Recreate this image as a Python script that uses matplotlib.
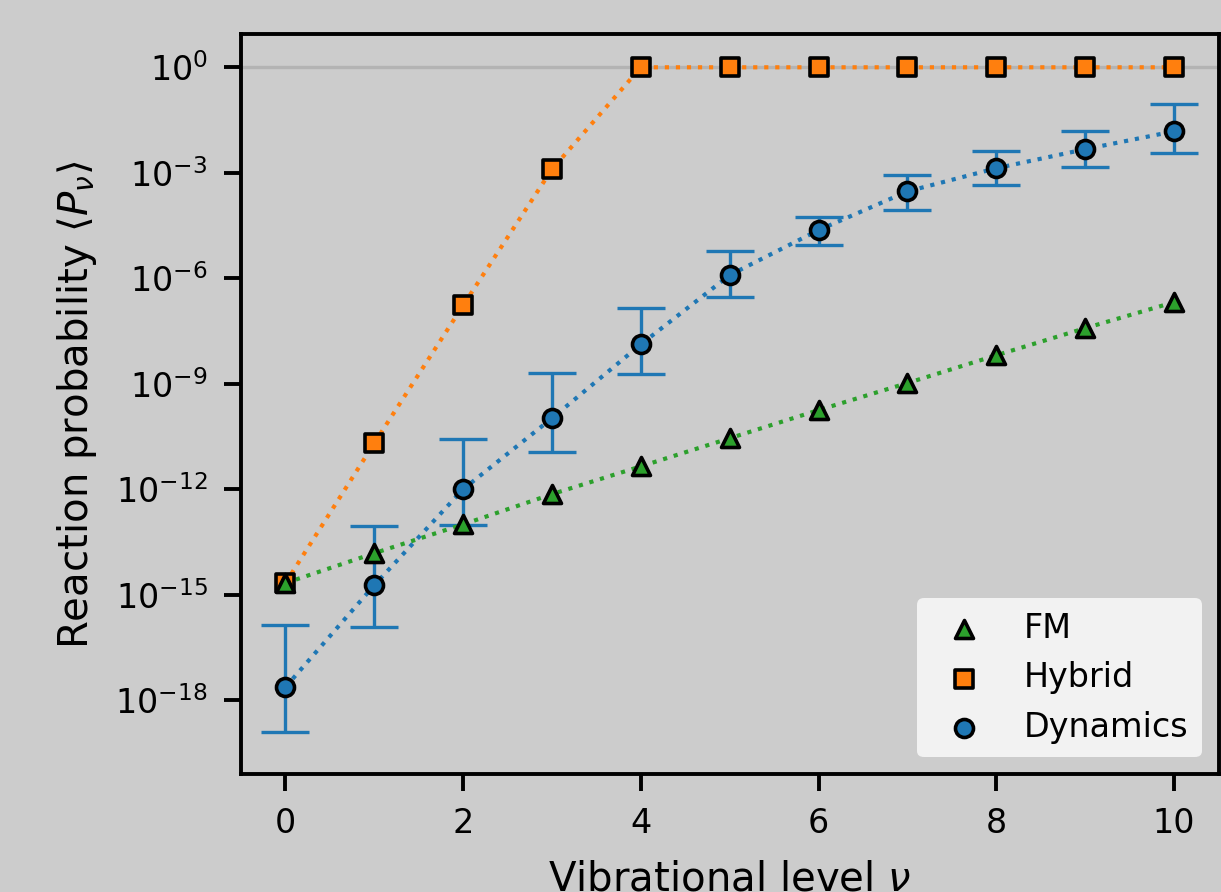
import numpy as np
import matplotlib
matplotlib.use("Agg")
import matplotlib.pyplot as plt
from matplotlib.ticker import NullLocator

# vibrational levels
levels = np.arange(11)

# log10 of reaction probabilities
fm_log = [-14.67, -13.82, -13.0, -12.14, -11.35, -10.55, -9.75, -8.98, -8.19, -7.42, -6.68]
hybrid_log = [-14.67, -10.69, -6.77, -2.90, 0, 0, 0, 0, 0, 0, 0]
dyn_log = [-17.63, -14.73, -12.0, -9.98, -7.88, -5.91, -4.63, -3.53, -2.87, -2.33, -1.82]
dyn_hi_log = [-15.87, -13.05, -10.58, -8.70, -6.85, -5.23, -4.27, -3.07, -2.39, -1.82, -1.05]
dyn_lo_log = [-18.91, -15.92, -13.02, -10.95, -8.73, -6.54, -5.06, -4.07, -3.36, -2.84, -2.45]

fm = 10.0 ** np.array(fm_log)
hybrid = 10.0 ** np.array(hybrid_log)
dyn = 10.0 ** np.array(dyn_log)
dyn_err = [dyn - 10.0 ** np.array(dyn_lo_log), 10.0 ** np.array(dyn_hi_log) - dyn]

bg = "#cccccc"
blue, orange, green = "#1f77b4", "#ff7f0e", "#2ca02c"

W, H = 1221, 892
fig = plt.figure(figsize=(W / 200, H / 200), dpi=200, facecolor=bg)
ax = fig.add_axes([241 / W, 1 - 774 / H, (1218.5 - 241) / W, (774 - 34.5) / H], facecolor=bg)

ax.axhline(1.0, color="#b3b3b3", lw=1.2, zorder=0)

ax.errorbar(levels, dyn, yerr=dyn_err, fmt="none", ecolor=blue, elinewidth=1.2,
            capsize=8.5, capthick=1.2, zorder=1)
ax.plot(levels, hybrid, ":", color=orange, lw=1.5, zorder=2)
ax.plot(levels, dyn, ":", color=blue, lw=1.5, zorder=2)
ax.plot(levels, fm, ":", color=green, lw=1.5, zorder=2)

h_hyb = ax.scatter(levels, hybrid, marker="s", s=42, c=orange, edgecolors="black",
                   linewidths=1.3, zorder=3, label="Hybrid")
h_dyn = ax.scatter(levels, dyn, marker="o", s=42, c=blue, edgecolors="black",
                   linewidths=1.3, zorder=3, label="Dynamics")
h_fm = ax.scatter(levels, fm, marker="^", s=42, c=green, edgecolors="black",
                  linewidths=1.3, zorder=4, label="FM")

ax.set_yscale("log")
ax.set_xlim(-0.5, 10.5)
ax.set_ylim(10 ** -20.1, 10 ** 0.933)
ax.set_yticks([10.0 ** -k for k in range(0, 19, 3)])
ax.yaxis.set_minor_locator(NullLocator())
ax.set_xticks(range(0, 11, 2))

for s in ax.spines.values():
    s.set_linewidth(1.4)
ax.tick_params(labelsize=12, width=1.4, length=6, pad=6)

ax.set_xlabel(r"Vibrational level $\nu$", fontsize=14.5, labelpad=7)
ax.set_ylabel(r"Reaction probability $\langle P_\nu \rangle$", fontsize=14.5, labelpad=6)

ax.legend(handles=[h_fm, h_hyb, h_dyn], loc="lower right", fontsize=12,
          facecolor="#f2f2f2", edgecolor="none", framealpha=1)

fig.savefig("out.png", dpi=200, facecolor=bg)
